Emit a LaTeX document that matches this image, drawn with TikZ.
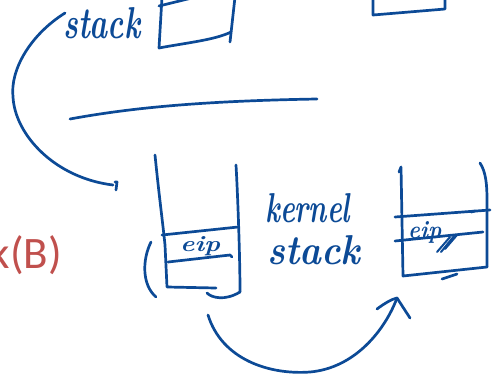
\documentclass[tikz,border=0pt]{standalone}
\usepackage{fontspec}
\newfontfamily\labelfont{Carlito}
\definecolor{ink}{RGB}{12,74,150}
\definecolor{slidered}{RGB}{192,80,77}
\tikzset{
  pen/.style={draw=ink, line width=2.7pt, line cap=round, line join=round},
  script/.style={text=ink, inner sep=0pt, anchor=base west, font=\bfseries\itshape},
}
\begin{document}
\begin{tikzpicture}[x=1pt, y=-1pt]
  \useasboundingbox (0,0) rectangle (500,380);
  \clip (0,0) rectangle (500,380);

  % slide heading fragment
  \node[anchor=base east, inner sep=0pt, text=slidered,
        font=\labelfont\fontsize{45}{45}\selectfont] (heading) at (62,268) {k(B)};

  % handwritten labels
  \node[script] (userlabel) at (63,38) {\resizebox{77pt}{31pt}{stack}};
  \node[script] (kernlabel) at (265,222) {\resizebox{85pt}{29pt}{kernel}};
  \node[script] (stacklabel) at (267,264) {\resizebox{93pt}{29pt}{stack}};
  \node[script] (eipA) at (180,251) {\resizebox{40pt}{15pt}{eip}};
  \node[script] (eipB) at (408,238) {\resizebox{33pt}{17pt}{eip}};

  % user stack boxes at the top
  \draw[pen] (159,6) -- (200,-4);
  \draw[pen] (162,-3) -- (159,48) .. controls (185,43) and (215,40) .. (231,32);
  \draw[pen] (235,-3) -- (230,42);
  \draw[pen] (373,-3) -- (373,15) -- (445,9) -- (445,-3);

  % divider line
  \draw[pen] (70,119) .. controls (130,108) and (200,101) .. (317,99);

  % kernel stack of the first process
  \draw[pen] (155,155) .. controls (159,195) and (163,225) .. (165,245) -- (167,287) -- (216,288);
  \draw[pen] (236,165) .. controls (238,200) and (240,260) .. (240,292);
  \draw[pen] (162,235) -- (238,227);
  \draw[pen] (168,262) -- (230,255) -- (232,257);
  \draw[pen] (207,293) .. controls (212,298) and (225,301) .. (240,292);
  \draw[pen] (151,242) .. controls (142,260) and (142,285) .. (156,297);

  % kernel stack of the second process
  \draw[pen] (399,172) -- (401,167) -- (403,276) -- (487,267);
  \draw[pen] (480,163) .. controls (486,172) and (487,185) .. (487,200) -- (487,267);
  \draw[pen] (395,217) -- (490,210);
  \draw[pen] (471,212) -- (475,211);
  \draw[pen] (395,241) -- (483,232);
  \draw[pen] (442,279) -- (457,274);
  \draw[pen, line width=2pt] (437,252) -- (450,237);
  \draw[pen, line width=2pt] (441,252) -- (454,236);
  \draw[pen, line width=2pt] (445,249) -- (457,235);

  % arrow from the user stack down to the kernel stack
  \coordinate (loopstart) at (65,13);
  \coordinate (loopend) at (113,185);
  \draw[pen] (loopstart) .. controls (30,35) and (10,70) .. (13,97)
                         .. controls (15,135) and (55,178) .. (loopend);
  \draw[pen] (115,182) -- (117,182) -- (116,190);

  % arrow from one kernel stack to the other
  \coordinate (swstart) at (208,315);
  \coordinate (swend) at (397,298);
  \draw[pen] (swstart) .. controls (222,360) and (270,375) .. (310,372)
                       .. controls (355,368) and (385,330) .. (swend);
  \draw[pen] (377,309) .. controls (385,303) and (392,299) .. (swend) -- (410,318);
\end{tikzpicture}
\end{document}
